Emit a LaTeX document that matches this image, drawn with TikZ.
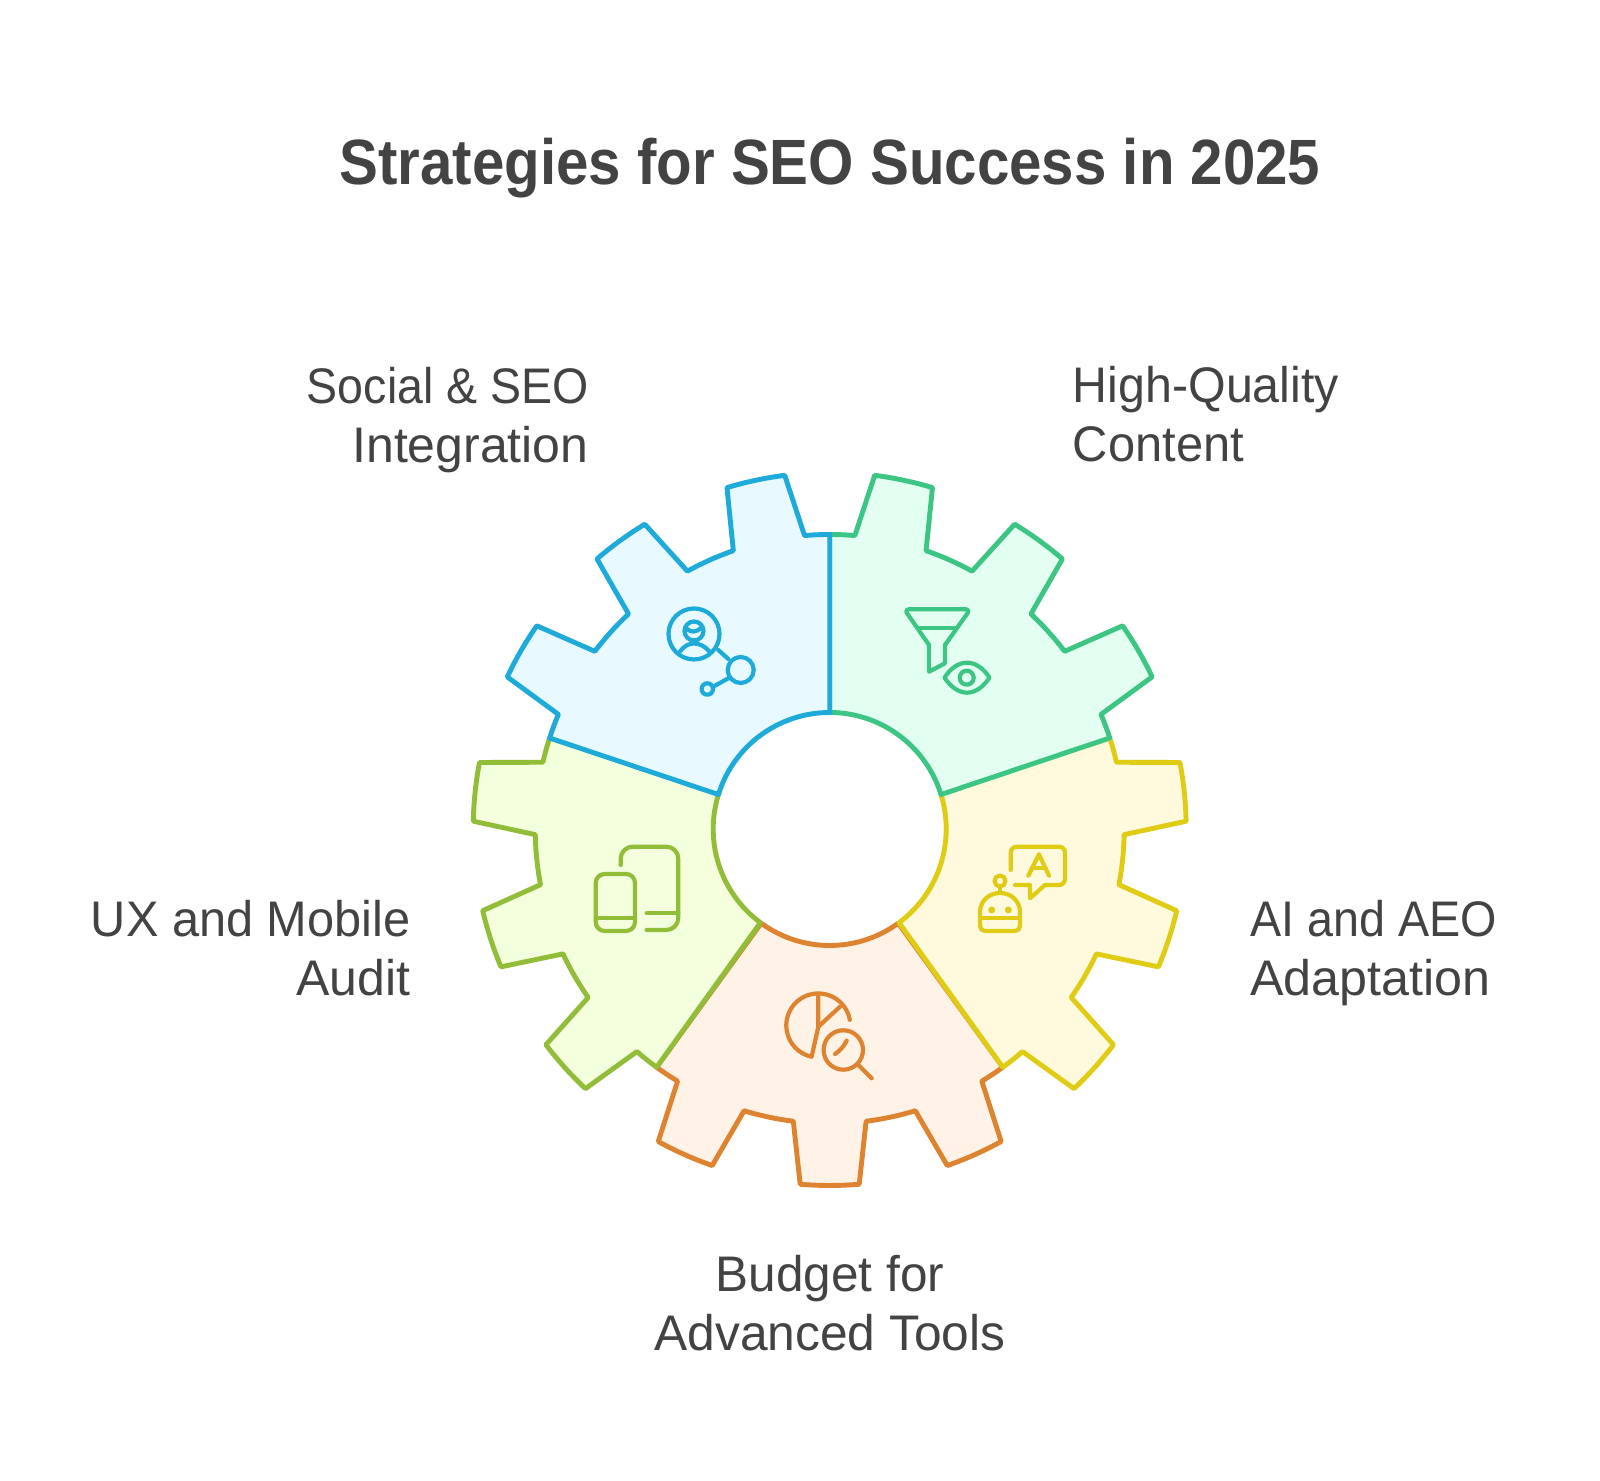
\documentclass[tikz,border=0pt]{standalone}
\usepackage{graphicx}
\usepackage{fontspec}
\setmainfont{Liberation Sans}
\definecolor{txt}{HTML}{434343}
\definecolor{blueS}{HTML}{1EABDA}\definecolor{blueF}{HTML}{E8F9FF}
\definecolor{greenS}{HTML}{3CC583}\definecolor{greenF}{HTML}{E3FFF1}
\definecolor{yellowS}{HTML}{E0CB15}\definecolor{yellowF}{HTML}{FFFADD}
\definecolor{orangeS}{HTML}{DE8431}\definecolor{orangeF}{HTML}{FFF2E7}
\definecolor{oliveS}{HTML}{92BD39}\definecolor{oliveF}{HTML}{F4FFDD}
\newcommand\gearseg[5]{%
 \draw[gearline,draw=#1,fill=#2]
 ({#3+72+#5}:116.5) -- ({#3+72}:294.5)
 arc[start angle={#3+72},end angle={#3+67.1},radius=294.5]
 -- ({#3+64.75}:356.5) arc[start angle={#3+64.75},end angle={#3+55.25},radius=356.5]
 -- ({#3+52.9}:294.5) arc[start angle={#3+52.9},end angle={#3+43.1},radius=294.5]
 -- ({#3+40.75}:356.5) arc[start angle={#3+40.75},end angle={#3+31.25},radius=356.5]
 -- ({#3+28.9}:294.5) arc[start angle={#3+28.9},end angle={#3+19.1},radius=294.5]
 -- ({#3+16.75}:356.5) arc[start angle={#3+16.75},end angle={#3+7.25},radius=356.5]
 -- ({#3+4.9}:294.5) arc[start angle={#3+4.9},end angle={#3},radius=294.5]
 -- ({#3+#4}:116.5) arc[start angle={#3+#4},end angle={#3+72+#5},radius=116.5] -- cycle;}
\newcommand\hs[2]{\scalebox{#1}[1]{#2}}
\tikzset{
 gearline/.style={line width=2.45pt,line join=round},
 icon/.style={line width=2.1pt,line cap=round,line join=round},
 label/.style={text=txt,font=\fontsize{25}{29.6}\selectfont,inner sep=0pt},
 titlelabel/.style={text=txt,font=\fontsize{32}{38}\selectfont\bfseries,inner sep=0pt}
}
\begin{document}
\begin{tikzpicture}[x=0.5pt,y=0.5pt]
\useasboundingbox (0,0) rectangle (1600,1481);
\fill[white] (0,0) rectangle (1600,1481);
\begin{scope}[shift={(829.7,652)}]
\gearseg{orangeS}{orangeF}{234}{0}{0}
\gearseg{yellowS}{yellowF}{-54}{0.5}{0}
\gearseg{oliveS}{oliveF}{162}{0}{-0.5}
\gearseg{greenS}{greenF}{18}{-0.8}{0}
\gearseg{blueS}{blueF}{90}{0}{0.8}
\end{scope}
\begin{scope}[shift={(0,1481)},yscale=-1]
% blue icon
\begin{scope}[icon,draw=blueS]
\draw (694,634) circle[radius=25.5];
\draw (694,631) circle[radius=9.5];
\draw (687,629) .. controls (691,633) and (697,632) .. (701,628);
\draw (680,651.5) .. controls (684,646) and (689,643.5) .. (694,643.5) .. controls (699,643.5) and (705,646) .. (709.3,651.5);
\draw (718.3,650) -- (728.3,659);
\draw (740.7,670) circle[radius=13];
\draw (728.3,678.3) -- (713.3,686.7);
\draw (707.3,689) circle[radius=5.7];
\end{scope}
% green icon
\begin{scope}[icon,draw=greenS]
\draw[rounded corners=2.2pt] (945,645) -- (970.3,609.3) -- (904.3,609.3) -- (929,645);
\draw (945,645) -- (945,663.3) -- (929,671.7) -- (929,645);
\draw (918,628.3) -- (957,628.3);
\draw (944.5,677.7) .. controls (950,669) and (958,662.7) .. (967,662.7) .. controls (976,662.7) and (984,669) .. (989.5,677.7) .. controls (984,686) and (976,692.7) .. (967,692.7) .. controls (958,692.7) and (950,686) .. (944.5,677.7) -- cycle;
\draw (966.7,677.7) circle[radius=7];
\end{scope}
% yellow icon
\begin{scope}[icon,draw=yellowS]
\draw[rounded corners=3pt] (1010.7,870) -- (1010.7,846.7) -- (1065,846.7) -- (1065,885) -- (1045,885);
\draw (1045,885) -- (1030,898.3) -- (1030,885) -- (1015,885);
\draw (1028.3,875.7) -- (1039,854.3) -- (1049,875.7);
\draw (1031.7,868.3) -- (1045.7,868.3);
\draw (1000,881) circle[radius=5.5];
\draw (1000,887) -- (1000,893);
\draw (980,912) .. controls (980,901) and (989,893) .. (1000,893) .. controls (1011,893) and (1020,901) .. (1020,912);
\draw[rounded corners=2.5pt] (980,912) -- (980,931) -- (1020,931) -- (1020,912);
\draw (980,918.3) -- (1020,918.3);
\fill[yellowS] (991.7,910) circle[radius=3.5] (1008.3,910) circle[radius=3.5];
\end{scope}
% orange icon
\begin{scope}[icon,draw=orangeS]
\draw (849.8,1019.9) arc[start angle=-10,end angle=-258,radius=32] -- (818.3,1026.7) -- (818.3,994);
\draw (818.3,1026.7) -- (840,1006.7);
\draw (843.3,1050) circle[radius=19.7];
\draw (858.3,1065) -- (871.7,1078.3);
\draw (835,1054) .. controls (840,1051) and (844,1046) .. (846.7,1040.7);
\end{scope}
% olive icon
\begin{scope}[icon,draw=oliveS]
\draw[rounded corners=6pt] (620.7,865) -- (620.7,846.7) -- (678.3,846.7) -- (678.3,930) -- (646.7,930);
\draw (646.7,913.3) -- (678.3,913.3);
\draw[rounded corners=4.5pt] (595.7,874) rectangle (635,931);
\draw (595.7,918.3) -- (635,918.3);
\end{scope}
\end{scope}
\node[titlelabel] (title) at (830,1481-168) {\hs{0.91}{Strategies for SEO Success in 2025}};
\node[label,anchor=east,align=right] (social) at (589,1481-420) {\hs{0.93}{Social \& SEO}\\\hs{1}{Integration}};
\node[label,anchor=west,align=left] (content) at (1072.5,1481-414) {\hs{0.967}{High-Quality}\\\hs{0.977}{Content}};
\node[label,anchor=west,align=left] (ai) at (1250,1481-953) {\hs{0.934}{AI and AEO}\\\hs{1.005}{Adaptation}};
\node[label,anchor=east,align=right] (ux) at (411,1481-948) {\hs{0.975}{UX and Mobile}\\Audit};
\node[label,align=center] (budget) at (830,1481-1303) {\hs{0.99}{Budget for}\\\hs{0.994}{Advanced Tools}};
\end{tikzpicture}
\end{document}
